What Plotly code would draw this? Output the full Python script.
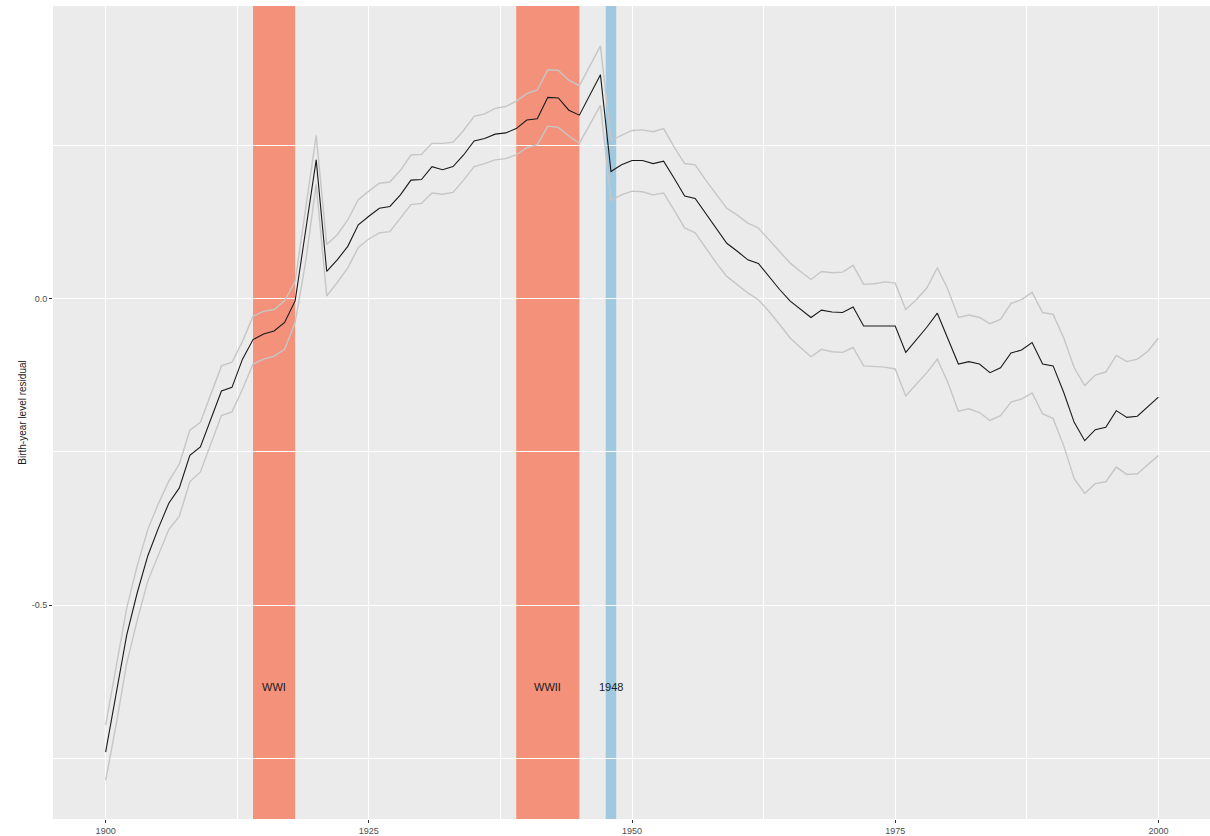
import plotly.graph_objects as go

# Birth years and estimated residual with its confidence bounds
years = list(range(1900, 2001))

estimate = [
    -0.740, -0.646, -0.549, -0.480, -0.420, -0.375, -0.334, -0.309, -0.256, -0.242,
    -0.196, -0.151, -0.145, -0.099, -0.067, -0.058, -0.053, -0.039, -0.004, 0.109,
    0.226, 0.044, 0.063, 0.085, 0.120, 0.134, 0.147, 0.150, 0.169, 0.193,
    0.194, 0.215, 0.210, 0.215, 0.234, 0.257, 0.261, 0.268, 0.270, 0.277,
    0.291, 0.293, 0.328, 0.327, 0.307, 0.299, 0.332, 0.365, 0.207, 0.218,
    0.225, 0.225, 0.220, 0.224, 0.196, 0.167, 0.163, 0.139, 0.115, 0.090,
    0.077, 0.063, 0.057, 0.036, 0.015, -0.004, -0.018, -0.031, -0.019, -0.022,
    -0.023, -0.014, -0.045, -0.045, -0.044, -0.045, -0.088, -0.068, -0.047, -0.024,
    -0.064, -0.107, -0.103, -0.107, -0.121, -0.113, -0.089, -0.084, -0.072, -0.107,
    -0.110, -0.153, -0.202, -0.232, -0.214, -0.210, -0.183, -0.194, -0.192, -0.177,
    -0.161,
]

upper = [
    -0.696, -0.598, -0.505, -0.436, -0.377, -0.335, -0.298, -0.270, -0.215, -0.202,
    -0.156, -0.110, -0.104, -0.070, -0.029, -0.021, -0.018, -0.004, 0.028, 0.150,
    0.266, 0.088, 0.104, 0.128, 0.161, 0.175, 0.188, 0.190, 0.209, 0.234,
    0.235, 0.253, 0.253, 0.255, 0.274, 0.297, 0.301, 0.310, 0.313, 0.322,
    0.334, 0.340, 0.373, 0.372, 0.356, 0.347, 0.380, 0.412, 0.258, 0.266,
    0.274, 0.275, 0.272, 0.277, 0.247, 0.220, 0.218, 0.193, 0.169, 0.147,
    0.136, 0.123, 0.115, 0.096, 0.077, 0.058, 0.044, 0.031, 0.044, 0.042,
    0.043, 0.054, 0.023, 0.024, 0.027, 0.025, -0.018, -0.002, 0.017, 0.050,
    0.015, -0.031, -0.027, -0.031, -0.041, -0.034, -0.008, -0.002, 0.010, -0.023,
    -0.026, -0.064, -0.113, -0.142, -0.125, -0.120, -0.093, -0.103, -0.099, -0.086,
    -0.065,
]

lower = [
    -0.786, -0.695, -0.595, -0.525, -0.461, -0.418, -0.377, -0.355, -0.299, -0.283,
    -0.238, -0.191, -0.185, -0.148, -0.107, -0.099, -0.094, -0.083, -0.039, 0.060,
    0.186, 0.004, 0.026, 0.050, 0.083, 0.097, 0.107, 0.109, 0.131, 0.153,
    0.155, 0.172, 0.170, 0.173, 0.193, 0.215, 0.220, 0.226, 0.228, 0.234,
    0.246, 0.251, 0.281, 0.279, 0.265, 0.253, 0.284, 0.315, 0.160, 0.169,
    0.175, 0.174, 0.169, 0.172, 0.144, 0.115, 0.107, 0.082, 0.058, 0.036,
    0.023, 0.009, -0.002, -0.021, -0.042, -0.064, -0.080, -0.095, -0.083, -0.087,
    -0.088, -0.080, -0.110, -0.111, -0.112, -0.115, -0.159, -0.140, -0.121, -0.099,
    -0.137, -0.184, -0.180, -0.186, -0.199, -0.191, -0.169, -0.164, -0.154, -0.188,
    -0.196, -0.240, -0.294, -0.318, -0.302, -0.299, -0.275, -0.287, -0.286, -0.271,
    -0.256,
]

# Historical periods shaded behind the series
event_labels = ["WWI", "WWII", "1948"]
event_start = [1914, 1939, 1947.5]
event_end = [1918, 1945, 1948.5]
event_colors = ["#F3917A", "#F3917A", "#9FC9E0"]
label_y = -0.633

x_ticks = [1900, 1925, 1950, 1975, 2000]
y_ticks = [-0.5, 0.0]
y_tick_text = ["-0.5", "0.0"]

fig = go.Figure()

for y_series in (upper, lower):
    fig.add_trace(go.Scatter(
        x=years, y=y_series, mode="lines",
        line=dict(color="#C6C6C6", width=1.4),
        hoverinfo="skip", showlegend=False,
    ))

fig.add_trace(go.Scatter(
    x=years, y=estimate, mode="lines",
    line=dict(color="#1A1A1A", width=1.1),
    showlegend=False,
))

for name, x0, x1, col in zip(event_labels, event_start, event_end, event_colors):
    fig.add_shape(
        type="rect", xref="x", yref="paper",
        x0=x0, x1=x1, y0=0, y1=1,
        fillcolor=col, line=dict(width=0), layer="between",
    )
    fig.add_annotation(
        x=(x0 + x1) / 2, y=label_y, xref="x", yref="y",
        text=name, showarrow=False,
        font=dict(family="Liberation Sans, Arial", size=11, color="#1A1A1A"),
    )

fig.update_layout(
    width=1210, height=836,
    margin=dict(l=53, r=0, t=6, b=13),
    paper_bgcolor="white",
    plot_bgcolor="#EBEBEB",
    font=dict(family="Liberation Sans, Arial", color="#4D4D4D"),
    showlegend=False,
)

fig.update_xaxes(
    range=[1895, 2004.9],
    tickmode="array", tickvals=x_ticks,
    ticks="outside", ticklen=3, tickwidth=1, tickcolor="#333333",
    tickfont=dict(size=9, color="#4D4D4D", family="Liberation Sans Narrow, Liberation Sans"),
    showgrid=True, gridcolor="white", gridwidth=1.1,
    minor=dict(tickmode="array", tickvals=[1912.5, 1937.5, 1962.5, 1987.5],
               showgrid=True, gridcolor="white", gridwidth=0.6),
    zeroline=False, showline=False,
)

fig.update_yaxes(
    range=[-0.849, 0.477],
    tickmode="array", tickvals=y_ticks, ticktext=y_tick_text,
    ticks="outside", ticklen=3, tickwidth=1, tickcolor="#333333",
    tickfont=dict(size=9, color="#4D4D4D"),
    showgrid=True, gridcolor="white", gridwidth=1.1,
    minor=dict(tickmode="array", tickvals=[-0.75, -0.25, 0.25],
               showgrid=True, gridcolor="white", gridwidth=0.6),
    zeroline=False, showline=False,
    title=dict(text="Birth-year level residual", standoff=3,
               font=dict(size=10, color="#1A1A1A")),
)

fig.write_html("out.html")
